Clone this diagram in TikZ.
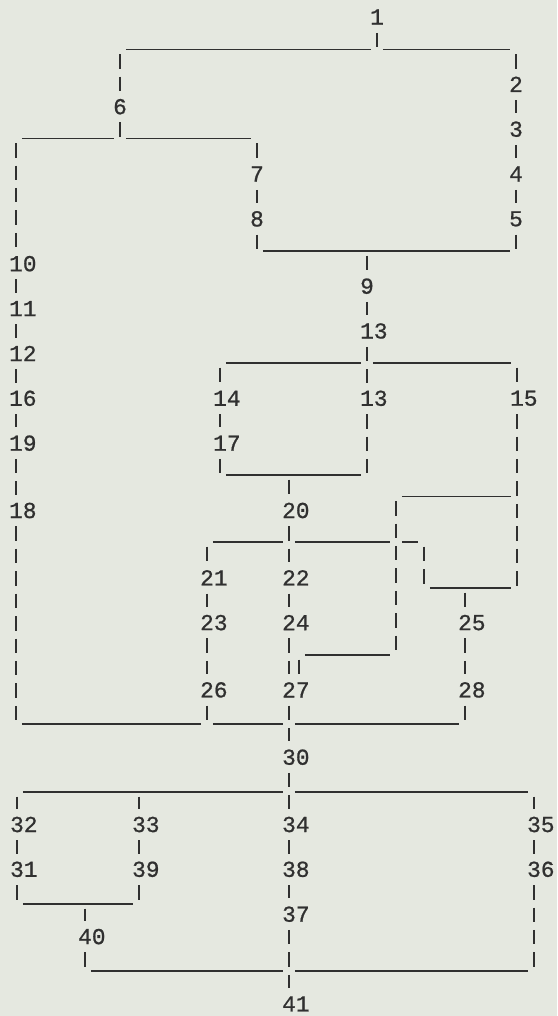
\documentclass[tikz,border=0pt]{standalone}
\usepackage{fontspec}
\newfontfamily\typefont[FakeBold=0.8]{Liberation Mono}
\definecolor{paper}{RGB}{229,232,224}
\definecolor{ink}{RGB}{48,48,48}
\usepackage{tikz}
% label box one character wide, so the node sits on the first digit
\newcommand{\lab}[1]{\makebox[0.6em][l]{#1}}

\begin{document}
\begin{tikzpicture}[x=0.02cm, y=-0.02cm,
  num/.style={inner sep=0pt, minimum height=0.617cm, text=ink,
    font=\typefont\fontsize{13}{15}\selectfont},
  rule/.style={ink, line width=1.1pt, shorten <=3.4pt, shorten >=3.4pt},
  bar/.style={ink, line width=1.1pt, dash pattern=on 0.29cm off 0.159cm},
  drop/.style={bar, shorten <=2.6pt}]

\useasboundingbox (0,0) rectangle (557,1016);
\fill[paper] (0,0) rectangle (557,1016);

% --- 1: top split ---
\node[num] (n1) at (377,17) {\lab{1}};
\coordinate (j1) at (377,49.5);
\coordinate (c1l) at (120,49.5);
\coordinate (c1r) at (516,49.5);
\draw[bar] (n1) -- (j1);
\draw[rule] (c1l) -- (j1);
\draw[rule] (j1) -- (c1r);

% --- 2 to 5 ---
\node[num] (n2) at (516,84.3) {\lab{2}};
\node[num] (n3) at (516,129.2) {\lab{3}};
\node[num] (n4) at (516,174) {\lab{4}};
\node[num] (n5) at (516,218.9) {\lab{5}};
\draw[drop] (c1r) -- (n2);
\draw[bar] (n2) -- (n3);
\draw[bar] (n3) -- (n4);
\draw[bar] (n4) -- (n5);

% --- 6: second split ---
\node[num] (n6) at (120,106.7) {\lab{6}};
\draw[drop] (c1l) -- (n6);
\coordinate (j5) at (120,138.5);
\coordinate (c5l) at (16,138.5);
\coordinate (c5r) at (257,138.5);
\draw[bar] (n6) -- (j5);
\draw[rule] (c5l) -- (j5);
\draw[rule] (j5) -- (c5r);

% --- 7, 8 and the join under 5 ---
\node[num] (n7) at (257,174) {\lab{7}};
\node[num] (n8) at (257,218.9) {\lab{8}};
\draw[drop] (c5r) -- (n7);
\draw[bar] (n7) -- (n8);
\coordinate (c10l) at (257,251);
\coordinate (c10r) at (516,251);
\coordinate (j10) at (367,251);
\draw[bar] (n8) -- (c10l);
\draw[bar] (n5) -- (c10r);
\draw[rule] (c10l) -- (c10r);

% --- 9, 13 ---
\node[num] (n9) at (367,286.2) {\lab{9}};
\node[num] (n13a) at (367,331) {\lab{13}};
\node[num] (n13b) at (367,398.3) {\lab{13}};
\draw[drop] (j10) -- (n9);
\draw[bar] (n9) -- (n13a);
\draw[bar] (n13a) -- (n13b);
\coordinate (j15) at (367,363);
\coordinate (c15l) at (220,363);
\coordinate (c15r) at (517,363);
\draw[rule] (c15l) -- (j15);
\draw[rule] (j15) -- (c15r);

% --- 14, 17 ---
\node[num] (n14) at (220,398.3) {\lab{14}};
\node[num] (n17) at (220,443.2) {\lab{17}};
\draw[drop] (c15l) -- (n14);
\draw[bar] (n14) -- (n17);
\coordinate (c20l) at (220,475);
\coordinate (c20r) at (367,475);
\coordinate (j20) at (289,475);
\draw[bar] (n17) -- (c20l);
\draw[bar] (n13b) -- (c20r);
\draw[rule] (c20l) -- (c20r);

% --- 15 and its loop ---
\node[num] (n15) at (517,398.3) {\lab{15}};
\coordinate (c21l) at (396,496.5);
\coordinate (c21r) at (517,496.5);
\coordinate (c25r) at (517,588);
\draw[drop] (c15r) -- (n15);
\draw[bar] (n15) -- (c25r);
\draw[rule] (c21l) -- (c21r);

% --- 20: third split ---
\node[num] (n20) at (289,510.5) {\lab{20}};
\draw[drop] (j20) -- (n20);
\coordinate (c23l) at (207,542);
\coordinate (j23) at (289,542);
\coordinate (c23r) at (396,542);
\coordinate (c23k) at (424,542);
\draw[rule] (c23l) -- (j23);
\draw[rule] (j23) -- (c23r);
\draw[rule] (c23r) -- (c23k);
\coordinate (c28r) at (396,655);
\draw[drop] (c21l) -- (c28r);
\coordinate (c25k) at (424,588);
\coordinate (j25) at (465,588);
\draw[drop] (c23k) -- (c25k);
\draw[rule] (c25k) -- (c25r);

% --- 21, 23, 26 ---
\node[num] (n21) at (207,577.8) {\lab{21}};
\node[num] (n23) at (207,622.6) {\lab{23}};
\node[num] (n26) at (207,689.9) {\lab{26}};
\draw[drop] (c23l) -- (n21);
\draw[bar] (n21) -- (n23);
\draw[bar] (n23) -- (n26);

% --- 22, 24, 27 ---
\node[num] (n22) at (289,577.8) {\lab{22}};
\node[num] (n24) at (289,622.6) {\lab{24}};
\node[num] (n27) at (289,689.9) {\lab{27}};
\draw[bar] (n20) -- (n22);
\draw[bar] (n22) -- (n24);
\draw[bar] (n24) -- (n27);
\coordinate (c28l) at (299,655);
\draw[rule] (c28l) -- (c28r);
\draw[drop] (c28l) -- (c28l |- n27.north);

% --- 25, 28 ---
\node[num] (n25) at (465,622.6) {\lab{25}};
\node[num] (n28) at (465,689.9) {\lab{28}};
\draw[drop] (j25) -- (n25);
\draw[bar] (n25) -- (n28);

% --- left column: 10 to 18 ---
\node[num] (n10) at (16,263.7) {\lab{10}};
\node[num] (n11) at (16,308.6) {\lab{11}};
\node[num] (n12) at (16,353.5) {\lab{12}};
\node[num] (n16) at (16,398.3) {\lab{16}};
\node[num] (n19) at (16,443.2) {\lab{19}};
\node[num] (n18) at (16,510.5) {\lab{18}};
\draw[drop] (c5l) -- (n10);
\draw[bar] (n10) -- (n11);
\draw[bar] (n11) -- (n12);
\draw[bar] (n12) -- (n16);
\draw[bar] (n16) -- (n19);
\draw[bar] (n19) -- (n18);

% --- join into 30 ---
\coordinate (c31a) at (16,724);
\coordinate (c31e) at (207,724);
\coordinate (j31) at (289,724);
\coordinate (c31r) at (465,724);
\draw[bar] (n18) -- (c31a);
\draw[bar] (n26) -- (c31e);
\draw[bar] (n28) -- (c31r);
\draw[rule] (c31a) -- (c31e);
\draw[rule] (c31e) -- (j31);
\draw[rule] (j31) -- (c31r);
\node[num] (n30) at (289,757.2) {\lab{30}};
\draw[bar] (n27) -- (n30);

% --- 30: fourth split ---
\coordinate (c34l) at (17,792);
\coordinate (j34b) at (139,792);
\coordinate (j34) at (289,792);
\coordinate (c34r) at (534,792);
\draw[rule] (c34l) -- (j34);
\draw[rule] (j34) -- (c34r);

\node[num] (n32) at (17,824.5) {\lab{32}};
\node[num] (n31) at (17,869.3) {\lab{31}};
\node[num] (n33) at (139,824.5) {\lab{33}};
\node[num] (n39) at (139,869.3) {\lab{39}};
\node[num] (n34) at (289,824.5) {\lab{34}};
\node[num] (n38) at (289,869.3) {\lab{38}};
\node[num] (n37) at (289,914.2) {\lab{37}};
\node[num] (n35) at (534,824.5) {\lab{35}};
\node[num] (n36) at (534,869.3) {\lab{36}};
\node[num] (n40) at (85,936.6) {\lab{40}};
\node[num] (n41) at (289,1003.9) {\lab{41}};

% 32, 31 and 33, 39
\coordinate (c39l) at (17,904);
\coordinate (c39r) at (139,904);
\coordinate (j39) at (85,904);
\draw[drop] (c34l) -- (n32);
\draw[bar] (n32) -- (n31);
\draw[bar] (n31) -- (c39l);
\draw[drop] (j34b) -- (n33);
\draw[bar] (n33) -- (n39);
\draw[bar] (n39) -- (c39r);
\draw[rule] (c39l) -- (c39r);

% 40 and the last join
\coordinate (c42l) at (85,971);
\coordinate (j42) at (289,971);
\coordinate (c42r) at (534,971);
\draw[drop] (j39) -- (n40);
\draw[bar] (n40) -- (c42l);
\draw[rule] (c42l) -- (j42);
\draw[rule] (j42) -- (c42r);

% 34, 38, 37, 41
\draw[bar] (n30) -- (n34);
\draw[bar] (n34) -- (n38);
\draw[bar] (n38) -- (n37);
\draw[bar] (n37) -- (n41);

% 35, 36
\draw[drop] (c34r) -- (n35);
\draw[bar] (n35) -- (n36);
\draw[bar] (n36) -- (c42r);

\end{tikzpicture}
\end{document}
